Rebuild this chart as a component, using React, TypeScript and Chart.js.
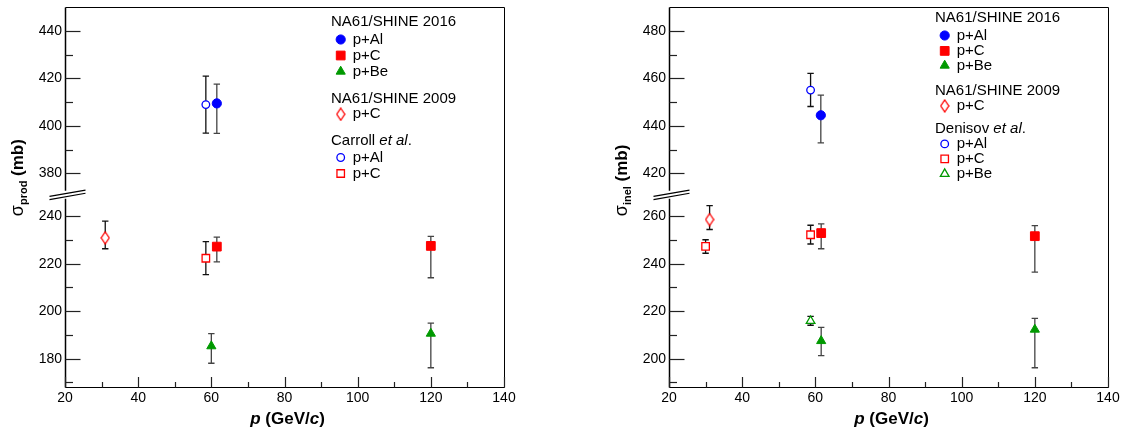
import React, { useEffect, useRef } from 'react';
import { Chart, registerables } from 'chart.js';
import { drawPoint } from 'chart.js/helpers';

Chart.register(...registerables);

const FONT = "'Liberation Sans', Arial, Helvetica, sans-serif";
Chart.defaults.font.family = FONT;
Chart.defaults.color = '#000';

// ---------------- axis ticks ----------------
const pTicks = [20, 30, 40, 50, 60, 70, 80, 90, 100, 110, 120, 130, 140];
const prodTicksLower = [170, 180, 190, 200, 210, 220, 230, 240];
const prodTicksUpper = [380, 390, 400, 410, 420, 430, 440];
const inelTicksLower = [190, 200, 210, 220, 230, 240, 250, 260];
const inelTicksUpper = [420, 430, 440, 450, 460, 470, 480];

// axis ranges (real values, mb) and break offsets
const prodRange = [168.1, 450];
const prodBreak = { split: 300, offset: 122, at: 249 };
const inelRange = [188.1, 490];
const inelBreak = { split: 330, offset: 142, at: 269 };

// ---------------- sigma_prod (left) ----------------
const prod16AlP = [61.5];
const prod16AlV = [409.5];
const prod16AlHi = [417.6];
const prod16AlLo = [396.9];

const prod16CP = [61.5, 120];
const prod16CV = [227.2, 227.5];
const prod16CHi = [231.2, 231.5];
const prod16CLo = [220.8, 214.1];

const prod16BeP = [60, 120];
const prod16BeV = [185.3, 190.6];
const prod16BeHi = [190.6, 195.0];
const prod16BeLo = [178.1, 176.2];

const prod09CP = [31];
const prod09CV = [230.9];
const prod09CHi = [237.9];
const prod09CLo = [226.3];

const carrollAlP = [58.5];
const carrollAlV = [409];
const carrollAlHi = [421];
const carrollAlLo = [397];

const carrollCP = [58.5];
const carrollCV = [222.3];
const carrollCHi = [229.3];
const carrollCLo = [215.4];

// ---------------- sigma_inel (right) ----------------
const inel16AlP = [61.5];
const inel16AlV = [444.5];
const inel16AlHi = [453.0];
const inel16AlLo = [432.9];

const inel16CP = [61.6, 120];
const inel16CV = [252.9, 251.6];
const inel16CHi = [256.8, 256.0];
const inel16CLo = [246.3, 236.5];

const inel16BeP = [61.6, 120];
const inel16BeV = [207.5, 212.3];
const inel16BeHi = [213.2, 217.0];
const inel16BeLo = [201.3, 196.2];

const inel09CP = [31.1];
const inel09CV = [258.6];
const inel09CHi = [264.5];
const inel09CLo = [254.4];

const denisovAlP = [58.7];
const denisovAlV = [455.1];
const denisovAlHi = [462.1];
const denisovAlLo = [448.2];

const denisovCP = [30, 58.7];
const denisovCV = [247.3, 252.2];
const denisovCHi = [250.1, 256.2];
const denisovCLo = [244.4, 248.3];

const denisovBeP = [58.7];
const denisovBeV = [215.9];
const denisovBeHi = [217.8];
const denisovBeLo = [214.1];

// ---------------- styles ----------------
const BLUE = '#0000ff';
const RED = '#ff0000';
const GREEN = '#009900';

type Mk = { style: any; radius: number; color: string; open: boolean };
let diamondCache: HTMLCanvasElement | null = null;
function diamond(): HTMLCanvasElement {
  if (diamondCache) return diamondCache;
  const c = document.createElement('canvas');
  c.width = 10;
  c.height = 14;
  const g = c.getContext('2d')!;
  g.strokeStyle = RED;
  g.lineWidth = 1.3;
  g.fillStyle = '#fff';
  g.beginPath();
  g.moveTo(5, 1);
  g.lineTo(9, 7);
  g.lineTo(5, 13);
  g.lineTo(1, 7);
  g.closePath();
  g.fill();
  g.stroke();
  diamondCache = c;
  return c;
}
function markers(): Record<string, Mk> {
  return {
    fullCircleBlue: { style: 'circle', radius: 4.6, color: BLUE, open: false },
    fullSquareRed: { style: 'rect', radius: 6.2, color: RED, open: false },
    fullTriGreen: { style: 'triangle', radius: 5.3, color: GREEN, open: false },
    openDiamondRed: { style: diamond(), radius: 5, color: RED, open: true },
    openCircleBlue: { style: 'circle', radius: 3.8, color: BLUE, open: true },
    openSquareRed: { style: 'rect', radius: 5.3, color: RED, open: true },
    openTriGreen: { style: 'triangle', radius: 5.0, color: GREEN, open: true },
  };
}

type Series = { p: number[]; v: number[]; hi: number[]; lo: number[]; mk: string; err: string };
type LegendRow = { dy: number; parts?: [string, boolean][]; mk?: string; text?: string };
type PanelCfg = {
  range: number[];
  brk: { split: number; offset: number; at: number };
  lower: number[];
  upper: number[];
  sub: string;
  padRight: number;
  series: Series[];
  legend: LegendRow[];
};

const prodPanel: PanelCfg = {
  range: prodRange,
  brk: prodBreak,
  lower: prodTicksLower,
  upper: prodTicksUpper,
  sub: 'prod',
  padRight: 60,
  series: [
    { p: prod09CP, v: prod09CV, hi: prod09CHi, lo: prod09CLo, mk: 'openDiamondRed', err: '#111' },
    { p: carrollAlP, v: carrollAlV, hi: carrollAlHi, lo: carrollAlLo, mk: 'openCircleBlue', err: '#111' },
    { p: carrollCP, v: carrollCV, hi: carrollCHi, lo: carrollCLo, mk: 'openSquareRed', err: '#111' },
    { p: prod16AlP, v: prod16AlV, hi: prod16AlHi, lo: prod16AlLo, mk: 'fullCircleBlue', err: '#444' },
    { p: prod16CP, v: prod16CV, hi: prod16CHi, lo: prod16CLo, mk: 'fullSquareRed', err: '#444' },
    { p: prod16BeP, v: prod16BeV, hi: prod16BeHi, lo: prod16BeLo, mk: 'fullTriGreen', err: '#444' },
  ],
  legend: [
    { dy: 15, parts: [['NA61/SHINE 2016', false]] },
    { dy: 32.3, mk: 'fullCircleBlue', text: 'p+Al' },
    { dy: 48.3, mk: 'fullSquareRed', text: 'p+C' },
    { dy: 64.3, mk: 'fullTriGreen', text: 'p+Be' },
    { dy: 91.7, parts: [['NA61/SHINE 2009', false]] },
    { dy: 107, mk: 'openDiamondRed', text: 'p+C' },
    { dy: 133.7, parts: [['Carroll ', false], ['et al', true], ['.', false]] },
    { dy: 150.3, mk: 'openCircleBlue', text: 'p+Al' },
    { dy: 166.3, mk: 'openSquareRed', text: 'p+C' },
  ],
};

const inelPanel: PanelCfg = {
  range: inelRange,
  brk: inelBreak,
  lower: inelTicksLower,
  upper: inelTicksUpper,
  sub: 'inel',
  padRight: 20,
  series: [
    { p: inel09CP, v: inel09CV, hi: inel09CHi, lo: inel09CLo, mk: 'openDiamondRed', err: '#111' },
    { p: denisovAlP, v: denisovAlV, hi: denisovAlHi, lo: denisovAlLo, mk: 'openCircleBlue', err: '#111' },
    { p: denisovCP, v: denisovCV, hi: denisovCHi, lo: denisovCLo, mk: 'openSquareRed', err: '#111' },
    { p: denisovBeP, v: denisovBeV, hi: denisovBeHi, lo: denisovBeLo, mk: 'openTriGreen', err: '#111' },
    { p: inel16AlP, v: inel16AlV, hi: inel16AlHi, lo: inel16AlLo, mk: 'fullCircleBlue', err: '#444' },
    { p: inel16CP, v: inel16CV, hi: inel16CHi, lo: inel16CLo, mk: 'fullSquareRed', err: '#444' },
    { p: inel16BeP, v: inel16BeV, hi: inel16BeHi, lo: inel16BeLo, mk: 'fullTriGreen', err: '#444' },
  ],
  legend: [
    { dy: 11, parts: [['NA61/SHINE 2016', false]] },
    { dy: 28.3, mk: 'fullCircleBlue', text: 'p+Al' },
    { dy: 43.7, mk: 'fullSquareRed', text: 'p+C' },
    { dy: 58.3, mk: 'fullTriGreen', text: 'p+Be' },
    { dy: 83.3, parts: [['NA61/SHINE 2009', false]] },
    { dy: 98.7, mk: 'openDiamondRed', text: 'p+C' },
    { dy: 122, parts: [['Denisov ', false], ['et al', true], ['.', false]] },
    { dy: 136.7, mk: 'openCircleBlue', text: 'p+Al' },
    { dy: 151.7, mk: 'openSquareRed', text: 'p+C' },
    { dy: 166.7, mk: 'openTriGreen', text: 'p+Be' },
  ],
};

function drawMk(ctx: CanvasRenderingContext2D, m: Mk, x: number, y: number) {
  ctx.save();
  ctx.fillStyle = m.open ? '#fff' : m.color;
  ctx.strokeStyle = m.color;
  ctx.lineWidth = m.open ? 1.3 : 1;
  drawPoint(ctx, { pointStyle: m.style, radius: m.radius, rotation: 0, borderWidth: ctx.lineWidth } as any, x, y);
  ctx.restore();
}

function makePlugin(pn: PanelCfg, mks: Record<string, Mk>, toV: (r: number) => number) {
  return {
    id: 'rootStyle',
    beforeDatasetsDraw(chart: any) {
      const { ctx } = chart;
      const xs = chart.scales.x;
      const ys = chart.scales.y;
      ctx.save();
      ctx.lineWidth = 1.3;
      for (const s of pn.series) {
        ctx.strokeStyle = s.err;
        s.p.forEach((p, i) => {
          const px = xs.getPixelForValue(p);
          const t = ys.getPixelForValue(toV(s.hi[i]));
          const b = ys.getPixelForValue(toV(s.lo[i]));
          ctx.beginPath();
          ctx.moveTo(px, t);
          ctx.lineTo(px, b);
          ctx.moveTo(px - 3.2, t);
          ctx.lineTo(px + 3.2, t);
          ctx.moveTo(px - 3.2, b);
          ctx.lineTo(px + 3.2, b);
          ctx.stroke();
        });
      }
      ctx.restore();
    },
    afterDraw(chart: any) {
      const { ctx, chartArea: ca } = chart;
      const xs = chart.scales.x;
      const ys = chart.scales.y;
      const L = Math.round(ca.left) + 0.5;
      const R = Math.round(ca.right) + 0.5;
      const T = Math.round(ca.top) + 0.5;
      const B = Math.round(ca.bottom) + 0.5;
      const by = ys.getPixelForValue(pn.brk.at);
      ctx.save();
      ctx.strokeStyle = '#000';
      ctx.lineWidth = 1;
      // frame
      ctx.beginPath();
      ctx.moveTo(L, T);
      ctx.lineTo(R, T);
      ctx.lineTo(R, B);
      ctx.lineTo(L, B);
      ctx.stroke();
      ctx.lineWidth = 1.5;
      ctx.beginPath();
      ctx.moveTo(L, T);
      ctx.lineTo(L, by - 4);
      ctx.moveTo(L, by + 4);
      ctx.lineTo(L, B);
      ctx.stroke();
      // y ticks
      ctx.lineWidth = 1.2;
      ctx.strokeStyle = '#222';
      for (const t of [...pn.lower, ...pn.upper]) {
        const py = Math.round(ys.getPixelForValue(toV(t))) + 0.5;
        const len = t % 20 === 0 ? 15 : 7.5;
        ctx.beginPath();
        ctx.moveTo(L, py);
        ctx.lineTo(L + len, py);
        ctx.stroke();
      }
      // x ticks
      for (const t of pTicks) {
        const px = Math.round(xs.getPixelForValue(t)) + 0.5;
        const len = t % 20 === 0 ? 10.5 : 5.5;
        ctx.beginPath();
        ctx.moveTo(px, B);
        ctx.lineTo(px, B - len);
        ctx.stroke();
      }
      // axis break
      const cx = L + 2;
      const hw = 18;
      const sl = 0.175;
      ctx.fillStyle = '#fff';
      ctx.beginPath();
      ctx.moveTo(cx - hw, by - 1.6 + hw * sl);
      ctx.lineTo(cx + hw, by - 1.6 - hw * sl);
      ctx.lineTo(cx + hw, by + 1.6 - hw * sl);
      ctx.lineTo(cx - hw, by + 1.6 + hw * sl);
      ctx.closePath();
      ctx.fill();
      ctx.strokeStyle = '#000';
      ctx.lineWidth = 1.1;
      ctx.beginPath();
      ctx.moveTo(cx - hw, by - 1.6 + hw * sl);
      ctx.lineTo(cx + hw, by - 1.6 - hw * sl);
      ctx.moveTo(cx - hw, by + 1.6 + hw * sl);
      ctx.lineTo(cx + hw, by + 1.6 - hw * sl);
      ctx.stroke();
      // y title
      ctx.fillStyle = '#000';
      ctx.save();
      ctx.translate(ca.left - 48, ca.top + 209);
      ctx.rotate(-Math.PI / 2);
      ctx.textAlign = 'left';
      ctx.textBaseline = 'alphabetic';
      let x = 0;
      ctx.font = `18px ${FONT}`;
      ctx.fillText('σ', x, 6);
      x += ctx.measureText('σ').width;
      ctx.font = `bold 11px ${FONT}`;
      ctx.fillText(pn.sub, x, 10);
      x += ctx.measureText(pn.sub).width;
      ctx.font = `bold 17px ${FONT}`;
      ctx.fillText(' (mb)', x, 6);
      ctx.restore();
      // x title
      const parts: [string, boolean][] = [['p', true], [' (GeV/', false], ['c', true], [')', false]];
      let w = 0;
      for (const [s, it] of parts) {
        ctx.font = `${it ? 'italic ' : ''}bold 17px ${FONT}`;
        w += ctx.measureText(s).width;
      }
      let xx = (ca.left + ca.right) / 2 + 3 - w / 2;
      ctx.textAlign = 'left';
      ctx.textBaseline = 'alphabetic';
      for (const [s, it] of parts) {
        ctx.font = `${it ? 'italic ' : ''}bold 17px ${FONT}`;
        ctx.fillText(s, xx, ca.bottom + 37);
        xx += ctx.measureText(s).width;
      }
      // legend
      ctx.textBaseline = 'middle';
      for (const row of pn.legend) {
        const y = ca.top + row.dy;
        if (row.parts) {
          let lx = ca.left + 266;
          for (const [s, it] of row.parts) {
            ctx.font = `${it ? 'italic ' : ''}15px ${FONT}`;
            ctx.fillStyle = '#000';
            ctx.fillText(s, lx, y);
            lx += ctx.measureText(s).width;
          }
        } else if (row.mk) {
          drawMk(ctx, mks[row.mk], ca.left + 275.7, y);
          ctx.font = `15px ${FONT}`;
          ctx.fillStyle = '#000';
          ctx.fillText(row.text || '', ca.left + 287.7, y);
        }
      }
      ctx.restore();
    },
  };
}

function buildConfig(pn: PanelCfg): any {
  const toV = (r: number) => (r > pn.brk.split ? r - pn.brk.offset : r);
  const toR = (v: number) => Math.round(v > pn.brk.at ? v + pn.brk.offset : v);
  const mks = markers();
  const datasets = pn.series.map((s) => {
    const m = mks[s.mk];
    return {
      data: s.p.map((p, i) => ({ x: p, y: toV(s.v[i]) })),
      showLine: false,
      pointStyle: m.style,
      pointRadius: m.radius,
      pointBackgroundColor: m.open ? '#fff' : m.color,
      pointBorderColor: m.color,
      pointBorderWidth: m.open ? 1.3 : 1,
    };
  });
  const yTicks = [...pn.lower, ...pn.upper];
  return {
    type: 'scatter',
    data: { datasets },
    plugins: [makePlugin(pn, mks, toV)],
    options: {
      animation: false,
      responsive: false,
      devicePixelRatio: 1,
      events: [],
      layout: { padding: { left: 0, right: pn.padRight, top: 4, bottom: 0 } },
      plugins: { legend: { display: false }, tooltip: { enabled: false } },
      scales: {
        x: {
          type: 'linear',
          min: 20,
          max: 140,
          grid: { display: false, drawTicks: false },
          border: { display: false },
          afterBuildTicks: (s: any) => {
            s.ticks = pTicks.map((v) => ({ value: v }));
          },
          afterFit: (s: any) => {
            s.height = 43;
            s.paddingLeft = 0;
            s.paddingRight = 0;
          },
          ticks: {
            autoSkip: false,
            maxRotation: 0,
            padding: 3,
            color: '#000',
            font: { size: 14, family: FONT },
            callback: (v: number) => (v % 20 === 0 ? String(v) : ''),
          },
        },
        y: {
          type: 'linear',
          min: toV(pn.range[0]),
          max: toV(pn.range[1]),
          grid: { display: false, drawTicks: false },
          border: { display: false },
          afterBuildTicks: (s: any) => {
            s.ticks = yTicks.map((v) => ({ value: toV(v) }));
          },
          afterFit: (s: any) => {
            s.width = pn.padRight === 60 ? 65 : 105;
            s.paddingTop = 0;
            s.paddingBottom = 0;
          },
          ticks: {
            autoSkip: false,
            padding: 3,
            color: '#000',
            font: { size: 14, family: FONT },
            callback: (v: number) => {
              const r = toR(v);
              return r % 20 === 0 ? String(r) : '';
            },
          },
        },
      },
    },
  };
}

function Panel({ panel }: { panel: PanelCfg }) {
  const ref = useRef<HTMLCanvasElement>(null);
  useEffect(() => {
    const chart = new Chart(ref.current!, buildConfig(panel));
    return () => chart.destroy();
  }, [panel]);
  return <canvas ref={ref} width={564} height={430} style={{ display: 'block', width: 564, height: 430 }} />;
}

export default function App() {
  return (
    <div style={{ position: 'absolute', left: 0, top: 0, width: 1128, height: 430, display: 'flex', background: '#fff' }}>
      <Panel panel={prodPanel} />
      <Panel panel={inelPanel} />
    </div>
  );
}
